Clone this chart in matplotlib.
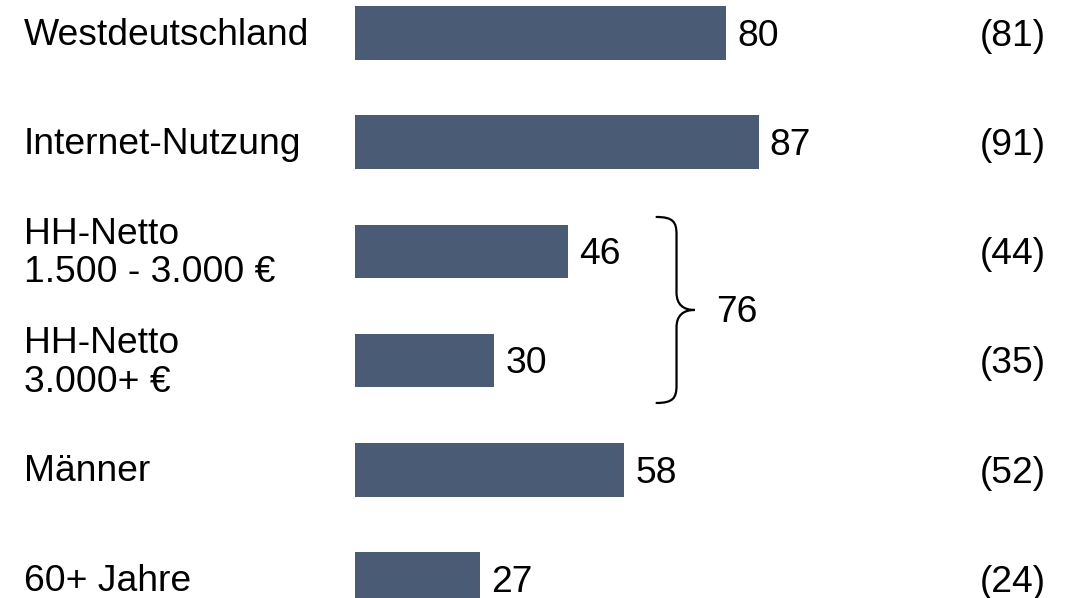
import matplotlib
matplotlib.use("Agg")
import matplotlib.pyplot as plt
import matplotlib.transforms as mtransforms
from matplotlib.path import Path
from matplotlib.patches import PathPatch

categories = ["Westdeutschland", "Internet-Nutzung", "HH-Netto\n1.500 - 3.000 €",
              "HH-Netto\n3.000+ €", "Männer", "60+ Jahre"]
values = [80, 87, 46, 30, 58, 27]
previous = [81, 91, 44, 35, 52, 24]
group_idx = [2, 3]
group_total = 76

bar_color = "#4a5b75"
plt.rcParams["font.family"] = ["Liberation Sans", "DejaVu Sans"]
fs = 26.8

fig = plt.figure(figsize=(10.7, 5.98), dpi=100)
ax = fig.add_axes([0, 0, 1, 1])
y = list(range(len(values)))
ax.barh(y, values, height=0.49, color=bar_color)
ax.set_xlim(-76.5, 154.1)
ax.set_ylim(5.174, -0.302)
ax.axis("off")

# x in axes fraction, y in data
trans = mtransforms.blended_transform_factory(ax.transAxes, ax.transData)
for i, (cat, v, p) in enumerate(zip(categories, values, previous)):
    ax.text(0.0224, i + 0.02, cat, transform=trans, ha="left", va="center",
            fontsize=fs, linespacing=1.13)
    ax.text(v + 2.4, i + 0.03, str(v), ha="left", va="center", fontsize=fs)
    ax.text(0.977, i + 0.03, f"({p})", transform=trans, ha="right", va="center",
            fontsize=fs)

# curly brace around the two income groups
top = group_idx[0] - 0.315
bot = group_idx[1] + 0.388
mid = (top + bot) / 2
x0 = max(values[group_idx[0]:group_idx[1] + 1]) + 19
x1 = x0 + 4.3
x2 = x0 + 8.2
ry = 0.16
verts = [
    (x0, top),
    (x0 + 3.6, top), (x1, top + ry * 0.3), (x1, top + ry),
    (x1, mid - ry),
    (x1, mid - ry * 0.3), (x1 + 1.5, mid), (x2, mid),
    (x1 + 1.5, mid), (x1, mid + ry * 0.3), (x1, mid + ry),
    (x1, bot - ry),
    (x1, bot - ry * 0.3), (x0 + 3.6, bot), (x0, bot),
]
codes = [Path.MOVETO] + [Path.CURVE4] * 3 + [Path.LINETO] + [Path.CURVE4] * 6 \
    + [Path.LINETO] + [Path.CURVE4] * 3
ax.add_patch(PathPatch(Path(verts, codes), facecolor="none", edgecolor="black",
                       lw=1.6, capstyle="round"))
ax.text(x2 + 4.6, mid + 0.02, str(group_total), ha="left", va="center", fontsize=fs)

fig.savefig("out.png", dpi=100)
